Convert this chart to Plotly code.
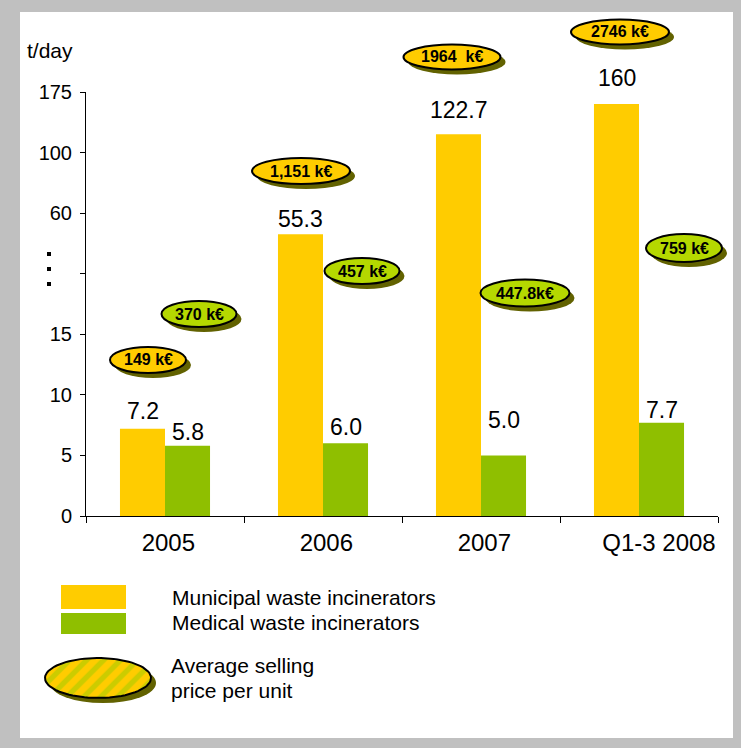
import numpy as np
import plotly.graph_objects as go

W, H = 741, 748

periods = ["2005", "2006", "2007", "Q1-3 2008"]
municipal_tpd = [7.2, 55.3, 122.7, 160]
medical_tpd = [5.8, 6.0, 5.0, 7.7]
municipal_price = ["149 k€", "1,151 k€", "1964  k€", "2746 k€"]
medical_price = ["370 k€", "457 k€", "447.8k€", "759 k€"]

# broken y axis: values at each evenly spaced tick (the unlabeled one is the break)
axis_values = [0, 5, 10, 15, 46.5, 60, 100, 175]
axis_labels = ["0", "5", "10", "15", "", "60", "100", "175"]

YELLOW = "#FFCC00"
GREEN = "#8FBF00"
BADGE_GREEN = "#B5D800"
SHADOW = "#626200"
FONT = "Liberation Sans, Arial, sans-serif"


def scale(v):
    return np.interp(v, axis_values, np.arange(len(axis_values)))


def px(x):
    return x / W


def py(y):
    return 1 - y / H


# badge centre / size in pixels
muni_badges = [(148, 360, 76, 26), (301, 171, 98, 26), (452, 57, 97, 25), (620, 32, 98, 25)]
med_badges = [(199, 314, 75, 26), (362, 271, 75, 26), (525, 293, 89, 27), (684, 248, 76, 28)]
muni_lift = [18, 15, 24, 26]
med_lift = [14, 16, 35, 13]

fig = go.Figure()
fig.add_trace(go.Bar(
    x=periods, y=scale(municipal_tpd), name="Municipal waste incinerators",
    marker=dict(color=YELLOW, line_width=0), customdata=municipal_tpd,
    hovertemplate="%{x}: %{customdata} t/day<extra></extra>",
))
fig.add_trace(go.Bar(
    x=periods, y=scale(medical_tpd), name="Medical waste incinerators",
    marker=dict(color=GREEN, line_width=0), customdata=medical_tpd,
    hovertemplate="%{x}: %{customdata} t/day<extra></extra>",
))

# legend ellipse with diagonal stripes, on a full-page overlay axis
t = np.linspace(0, 2 * np.pi, 80)
fig.add_trace(go.Scatter(
    x=98 + 53 * np.cos(t), y=678 + 20 * np.sin(t), xaxis="x2", yaxis="y2",
    mode="lines", fill="toself", line=dict(color="black", width=2),
    fillcolor=YELLOW,
    fillpattern=dict(shape="/", fgcolor="#99CC00", bgcolor=YELLOW, size=12, solidity=0.45),
    hoverinfo="skip", showlegend=False,
))

shapes = [dict(type="rect", xref="paper", yref="paper", x0=px(20), x1=px(733), y0=py(738), y1=py(12),
               fillcolor="white", line_width=0, layer="below"),
          dict(type="circle", xref="paper", yref="paper", x0=px(50), x1=px(156), y0=py(703), y1=py(663),
               fillcolor=SHADOW, line_width=0, layer="below")]
annotations = []

for badges, labels, fill in [(muni_badges, municipal_price, YELLOW), (med_badges, medical_price, BADGE_GREEN)]:
    for (cx, cy, w, h), lab in zip(badges, labels):
        shapes.append(dict(type="circle", xref="paper", yref="paper",
                           x0=px(cx - w / 2 + 5), x1=px(cx + w / 2 + 5),
                           y0=py(cy + h / 2 + 5), y1=py(cy - h / 2 + 5),
                           fillcolor=SHADOW, line_width=0))
        shapes.append(dict(type="circle", xref="paper", yref="paper",
                           x0=px(cx - w / 2), x1=px(cx + w / 2),
                           y0=py(cy + h / 2), y1=py(cy - h / 2),
                           fillcolor=fill, line=dict(color="black", width=2)))
        annotations.append(dict(xref="paper", yref="paper", x=px(cx), y=py(cy), text=f"<b>{lab}</b>",
                                showarrow=False, xanchor="center", yanchor="middle",
                                font=dict(size=16, color="black")))

# bar value labels (x given as category index)
for vals, shift, lift in [(municipal_tpd, -22.5, muni_lift), (medical_tpd, 22.5, med_lift)]:
    for i, (v, l) in enumerate(zip(vals, lift)):
        annotations.append(dict(x=i, y=scale(v), xref="x", yref="y", text=f"{v:g}" if v >= 100 else f"{v:.1f}",
                                showarrow=False, xshift=shift, yshift=l, xanchor="center", yanchor="middle",
                                font=dict(size=23, color="black")))

# axis break dots
for dy in [254, 269, 284]:
    shapes.append(dict(type="rect", xref="paper", yref="paper", x0=px(47), x1=px(51),
                       y0=py(dy + 2), y1=py(dy - 2), fillcolor="black", line_width=0))

# legend
shapes.append(dict(type="rect", xref="paper", yref="paper", x0=px(61), x1=px(126), y0=py(609), y1=py(585),
                   fillcolor=YELLOW, line_width=0))
shapes.append(dict(type="rect", xref="paper", yref="paper", x0=px(61), x1=px(126), y0=py(634), y1=py(613),
                   fillcolor=GREEN, line_width=0))
for txt, x, y in [("Municipal waste incinerators", 170, 597), ("Medical waste incinerators", 170, 622),
                  ("Average selling", 169, 665), ("price per unit", 169, 690), ("t/day", 25, 50)]:
    annotations.append(dict(xref="paper", yref="paper", x=px(x), y=py(y), text=txt, showarrow=False,
                            xanchor="left", yanchor="middle", font=dict(size=21, color="black")))

tick_text = ["\u00a0" + p for p in periods[:3]] + ["\u00a0" * 6 + periods[3]]

fig.update_layout(
    width=W, height=H,
    margin=dict(l=0, r=0, t=0, b=0, pad=0),
    paper_bgcolor="#C0C0C0",
    plot_bgcolor="rgba(0,0,0,0)",
    font=dict(family=FONT, color="black"),
    showlegend=False,
    barmode="group", bargap=0.43, bargroupgap=0,
    xaxis=dict(type="category", domain=[px(86), px(718)], anchor="y", range=[-0.5, 3.5],
               tickmode="array", tickvals=periods, ticktext=tick_text, tickangle=0,
               showline=True, linecolor="black",
               linewidth=1, ticks="outside", tickson="boundaries", ticklen=6, tickcolor="black",
               tickfont=dict(size=24), showgrid=False, zeroline=False, ticklabelstandoff=5,
               automargin=False, fixedrange=True),
    yaxis=dict(domain=[py(516), py(92)], anchor="x", range=[0, 7], tickvals=list(range(len(axis_labels))),
               ticktext=axis_labels, showline=True, linecolor="black", linewidth=1, ticks="outside",
               ticklen=5, tickcolor="black", tickfont=dict(size=20), showgrid=False, zeroline=False,
               ticklabelstandoff=4, automargin=False, fixedrange=True),
    xaxis2=dict(domain=[0, 1], anchor="y2", range=[0, W], visible=False, fixedrange=True, automargin=False),
    yaxis2=dict(domain=[0, 1], anchor="x2", range=[H, 0], visible=False, fixedrange=True, automargin=False),
    shapes=shapes,
    annotations=annotations,
)

fig.write_html("out.html", config={"displayModeBar": False},
               post_script="document.body.style.margin='0';"
                           "document.body.style.background='#C0C0C0';")
